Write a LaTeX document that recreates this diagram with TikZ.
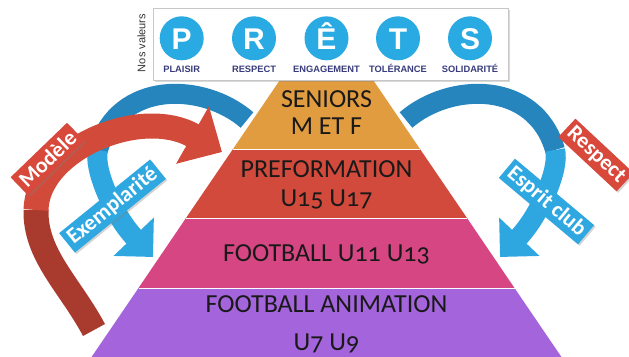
\documentclass[tikz,border=0pt]{standalone}
\usepackage{fontspec}
\setmainfont{Carlito}
\newfontfamily\tierfont[Numbers=OldStyle]{Carlito}
\newfontfamily\lblfont{Carlito}
\newfontfamily\boxfont{Liberation Sans}
\usetikzlibrary{arrows.meta,shadows}
\definecolor{cOrange}{HTML}{E29C40}
\definecolor{cRed}{HTML}{D24A3B}
\definecolor{cPink}{HTML}{D54683}
\definecolor{cPurple}{HTML}{A464DC}
\definecolor{bDark}{HTML}{2785BD}
\definecolor{bLight}{HTML}{2EA7E0}
\definecolor{rDark}{HTML}{A93A2E}
\definecolor{rMain}{HTML}{D24A3A}
\definecolor{navy}{HTML}{383C7C}
\definecolor{circ}{HTML}{2AAAE2}
\definecolor{lblRed}{HTML}{D8483B}
\definecolor{lblBlue}{HTML}{2FA8E1}
\tikzset{
  tiertext/.style={anchor=base, text=black!90, font=\tierfont\fontsize{26}{26}\selectfont, inner sep=0pt},
  lab/.style={rectangle, minimum height=25pt, inner xsep=4pt, inner ysep=0pt, text=white,
    font=\lblfont\bfseries\fontsize{22}{22}\selectfont,
    drop shadow={shadow xshift=1.5pt, shadow yshift=-1.5pt, opacity=0.35}},
  valcirc/.style={circle, fill=circ, minimum size=44pt, inner sep=0pt},
  valletter/.style={anchor=base, text=white, font=\boxfont\bfseries\fontsize{30}{30}\selectfont, inner sep=0pt},
  valname/.style={anchor=base, text=navy, font=\boxfont\bfseries\fontsize{9.3}{9.3}\selectfont, inner sep=0pt},
  tier/.style={draw=white!75!black!5, line width=0.8pt},
}
\begin{document}
\begin{tikzpicture}[x=1pt,y=-1pt]
\path[use as bounding box] (0,0) rectangle (629,356);

% ---- blue arrow left
\coordinate (lb0) at (247,120);
\coordinate (lb1) at (98,150);
\coordinate (lb2) at (153,257);
\draw[line width=20pt, bDark] (lb0) .. controls (203,82) and (118,80) .. (lb1);
\draw[line width=20pt, bLight, -{Triangle[width=54pt,length=28pt]}] (lb1) .. controls (93,168) and (113,215) .. (lb2);

% ---- blue arrow right
\coordinate (rb0) at (406,120);
\coordinate (rb1) at (555,150);
\coordinate (rb2) at (500,257);
\draw[line width=20pt, bDark] (rb0) .. controls (450,82) and (535,80) .. (rb1);
\draw[line width=20pt, bLight, -{Triangle[width=54pt,length=28pt]}] (rb1) .. controls (560,168) and (540,215) .. (rb2);

% ---- red arrow left
\coordinate (ra0) at (94,330);
\coordinate (ra1) at (36,210);
\coordinate (ra2) at (222,152);
\draw[line width=25pt, rDark] (ra0) .. controls (70,285) and (35,255) .. (ra1);
\draw[line width=25pt, rMain, -{Triangle[width=64pt,length=34pt]}] (ra1) .. controls (37,150) and (140,105) .. (ra2);

% ---- pyramid
\fill[cPurple] (138.5,288) -- (514.5,288) -- (563.5,360) -- (89.5,360) -- cycle;
\fill[cPink] (186,218) -- (467,218) -- (514.5,288) -- (138.5,288) -- cycle;
\fill[cRed] (233,149) -- (420,149) -- (467,218) -- (186,218) -- cycle;
\fill[cOrange] (281.3,78) -- (371.7,78) -- (420,149) -- (233,149) -- cycle;
\draw[tier] (233,149) -- (420,149);
\draw[tier] (186,218) -- (467,218);
\draw[tier] (138.5,288) -- (514.5,288);

\node[tiertext] (t1a) at (326.5,107.3) {SENIORS};
\node[tiertext] (t1b) at (326.5,134) {M ET F};
\node[tiertext] (t2a) at (326.5,177.3) {PREFORMATION};
\node[tiertext] (t2b) at (326.5,206.7) {U15 U17};
\node[tiertext] (t3) at (326.5,261.7) {FOOTBALL U11 U13};
\node[tiertext] (t4a) at (326.5,312.3) {FOOTBALL ANIMATION};
\node[tiertext] (t4b) at (326.5,350) {U7 U9};

% ---- values box
\node[draw=black!22, fill=white, line width=0.6pt, minimum width=355pt, minimum height=72pt, inner sep=0pt,
  drop shadow={shadow xshift=2pt, shadow yshift=-2pt, opacity=0.3}] (vals) at (330.5,44) {};
\node[rotate=90, text=black!80, font=\boxfont\fontsize{11}{11}\selectfont, inner sep=0pt] (nos) at (141.5,43) {Nos valeurs};

\node[valcirc] (cp) at (181.7,38.3) {};
\node[valcirc] (cr) at (254,38.3) {};
\node[valcirc] (ce) at (326.5,38.3) {};
\node[valcirc] (ct) at (398,38.3) {};
\node[valcirc] (cs) at (470,38.3) {};
\node[valletter] (lp) at (181.7,49.8) {P};
\node[valletter] (lr) at (254,49.8) {R};
\node[valletter] (le) at (326.5,49.8) {Ê};
\node[valletter] (lt) at (398,49.8) {T};
\node[valletter] (ls) at (470,49.8) {S};
\node[valname] (np) at (181.7,72.7) {PLAISIR};
\node[valname] (nr) at (254,72.7) {RESPECT};
\node[valname] (ne) at (326.5,72.7) {ENGAGEMENT};
\node[valname] (nt) at (398,72.7) {TOLÉRANCE};
\node[valname] (ns) at (470,72.7) {SOLIDARITÉ};

% ---- labels
\node[lab, fill=lblRed, rotate=44] (modele) at (47.5,159) {Modèle};
\node[lab, fill=lblBlue, rotate=39] (exempl) at (112.5,206) {Exemplarité};
\node[lab, fill=lblRed, rotate=-43] (respect) at (596,155) {Respect};
\node[lab, fill=lblBlue, rotate=-40] (esprit) at (546.5,201.5) {Esprit club};
\end{tikzpicture}
\end{document}
